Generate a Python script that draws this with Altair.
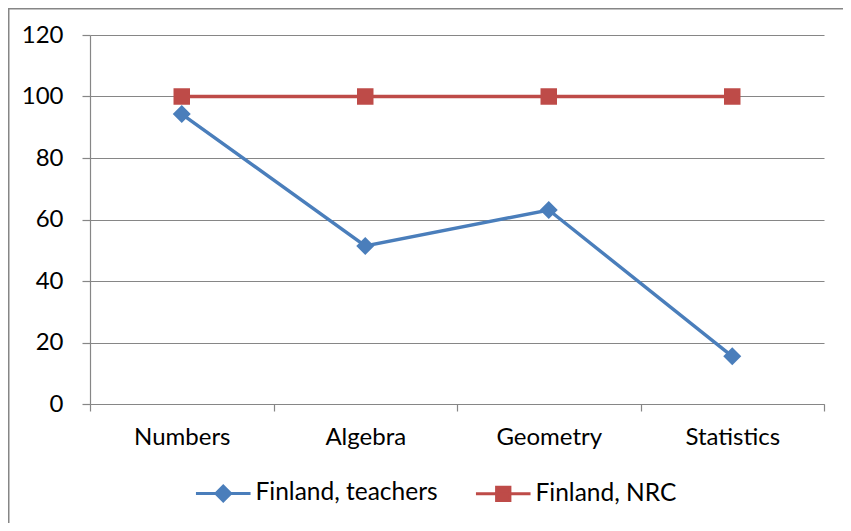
import altair as alt
import pandas as pd

categories = ["Numbers", "Algebra", "Geometry", "Statistics"]
teachers = [94.3, 51.4, 63.1, 15.5]
nrc = [100, 100, 100, 100]
series_names = ["Finland, teachers", "Finland, NRC"]
colors = ["#4A7EBB", "#BE4B48"]
y_ticks = [0, 20, 40, 60, 80, 100, 120]

rows = []
for s, vals in zip(series_names, [teachers, nrc]):
    for c, v in zip(categories, vals):
        rows.append({"category": c, "value": v, "series": s})
df = pd.DataFrame(rows)

FONT = "Lato"
GRAY = "#868686"
W, H = 734, 369

TEACH_PATH = "M-3.9,0H3.9M-1.05,0L0,-1.05L1.05,0L0,1.05Z"
NRC_PATH = "M-3.9,0H3.9M-0.95,-0.95H0.95V0.95H-0.95Z"

x = alt.X(
    "category:N",
    sort=categories,
    scale=alt.Scale(paddingInner=0, paddingOuter=0),
    axis=alt.Axis(
        title=None, tickBand="extent", labelAngle=0, grid=False,
        domainColor=GRAY, tickColor=GRAY, tickSize=7, labelPadding=33,
        labelBaseline="alphabetic", labelFontSize=24, labelFont=FONT,
        labelColor="black", domainWidth=1.2, tickWidth=1.2,
    ),
)
y = alt.Y(
    "value:Q",
    scale=alt.Scale(domain=[0, 120]),
    axis=alt.Axis(
        title=None, values=y_ticks, grid=True, gridColor=GRAY, gridWidth=1.2,
        domainColor=GRAY, tickColor=GRAY, tickSize=8, labelPadding=19,
        labelFontSize=24, labelFont=FONT, labelColor="black",
        domainWidth=1.2, tickWidth=1.2,
    ),
)

legend = alt.Legend(
    orient="none", legendX=121, legendY=446, direction="horizontal",
    columns=2, title=None, symbolSize=196, labelOffset=20, columnPadding=31,
    labelFontSize=24.5, labelFont=FONT, labelColor="black", padding=0,
    symbolStrokeWidth=3, symbolOpacity=1, labelLimit=400,
)

# data-driven domain (via sort) for the drawn marks
color = alt.Color("series:N", sort=series_names, scale=alt.Scale(range=colors), legend=None)

base = alt.Chart(df)

border = base.mark_rect(fillOpacity=0, stroke=GRAY, strokeWidth=1.5).encode(
    x=alt.value(-81.25), x2=alt.value(800), y=alt.value(-26.25), y2=alt.value(520)
).transform_filter("datum.category == 'Numbers' && datum.series == 'Finland, NRC'")

lines = base.mark_line(strokeWidth=3.4).encode(x=x, y=y, color=color)

pts_teachers = base.mark_point(shape="diamond", size=324, filled=True, opacity=1, strokeWidth=0).encode(
    x=x, y=y, color=color
).transform_filter(alt.datum.series == series_names[0])

pts_nrc = base.mark_point(shape="square", size=272, filled=True, opacity=1, strokeWidth=0).encode(
    x=x, y=y, color=color
).transform_filter(alt.datum.series == series_names[1])

# legend-only layer: explicit domains so fill, stroke and shape merge into one legend
legend_layer = base.mark_point(opacity=1).encode(
    x=x, y=y,
    fill=alt.Fill("series:N", scale=alt.Scale(domain=series_names, range=colors), legend=legend),
    stroke=alt.Stroke("series:N", scale=alt.Scale(domain=series_names, range=colors), legend=legend),
    shape=alt.Shape("series:N", scale=alt.Scale(domain=series_names, range=[TEACH_PATH, NRC_PATH]), legend=legend),
).transform_filter("false")

chart = alt.layer(border, lines, pts_teachers, pts_nrc, legend_layer).properties(
    width=W, height=H,
    padding={"left": 82, "top": 27, "right": 19, "bottom": 119},
    autosize=alt.AutoSizeParams(type="none"),
    background="white",
).configure_view(stroke=None)

chart.save("out.html", embed_options={"renderer": "svg", "actions": False})
